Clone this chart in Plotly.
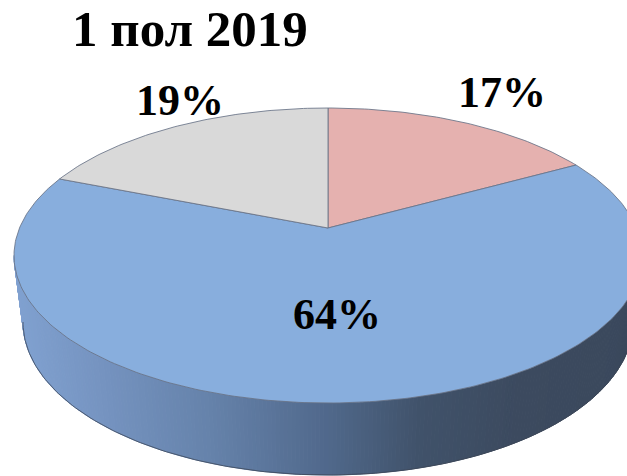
import math
import plotly.graph_objects as go

# Data
categories = ["A", "B", "C"]
values = [17, 64, 19]
labels = ["17%", "64%", "19%"]
slice_colors = ["#e5b1af", "#88aedd", "#d9d9d9"]
title_text = "1 пол 2019"

# Chart geometry, in page-like units
W, H = 627, 476
APEX = (328, 228)
TOP_UP, TOP_DOWN, RIM_RX = 120.0, 175.0, 314.0
C = -(TOP_DOWN - TOP_UP) / (TOP_DOWN + TOP_UP)
A = TOP_UP * (1 - C)
K = RIM_RX * math.sqrt(1 - C * C)
UPPER = (328, 255.5, 314, 147.5)
LOWER = (328, 322, 305, 153)
WALL_STOPS = [(14, (128, 161, 208)), (100, (117, 147, 192)), (210, (101, 130, 170)),
              (328, (80, 104, 139)), (420, (64, 82, 106)), (520, (60, 74, 95)), (642, (58, 72, 92))]


def project(theta):
    """Clockwise angle from the top of the disc to a point on the page."""
    x, y = math.sin(theta), -math.cos(theta)
    d = 1 + C * y
    return APEX[0] + K * x / d, APEX[1] + A * y / d


def on_ellipse(e, phi):
    return e[0] + e[2] * math.cos(phi), e[1] + e[3] * math.sin(phi)


def wall_color(x):
    for (x0, c0), (x1, c1) in zip(WALL_STOPS, WALL_STOPS[1:]):
        if x <= x1:
            f = max(0, (x - x0) / (x1 - x0))
            return "rgb(%d,%d,%d)" % tuple(round(a + (b - a) * f) for a, b in zip(c0, c1))
    return "rgb(%d,%d,%d)" % WALL_STOPS[-1][1]


fig = go.Figure()

# Side wall of the disc: thin strips shaded from left to right
N = 240
for i in range(N):
    p0, p1 = math.pi * i / N, math.pi * (i + 1) / N
    a, b = on_ellipse(UPPER, p0), on_ellipse(UPPER, p1)
    c, d = on_ellipse(LOWER, p1), on_ellipse(LOWER, p0)
    col = wall_color((a[0] + b[0]) / 2)
    fig.add_trace(go.Scatter(x=[a[0], b[0], c[0], d[0], a[0]], y=[a[1], b[1], c[1], d[1], a[1]],
                             mode="lines", fill="toself", fillcolor=col,
                             line=dict(color=col, width=1), hoverinfo="skip", showlegend=False))

# Edge under the wall
low_pts = [on_ellipse(LOWER, math.pi * i / 180) for i in range(181)]
fig.add_trace(go.Scatter(x=[p[0] for p in low_pts], y=[p[1] for p in low_pts], mode="lines",
                         line=dict(color="rgba(60,70,85,0.75)", width=1),
                         hoverinfo="skip", showlegend=False))

# Top face slices, drawn from the values
total = sum(values)
start = 0.0
for name, val, col in zip(categories, values, slice_colors):
    t0 = 2 * math.pi * start / total
    t1 = 2 * math.pi * (start + val) / total
    n = max(2, int(val * 4))
    rim = [project(t0 + (t1 - t0) * j / n) for j in range(n + 1)]
    xs = [APEX[0]] + [p[0] for p in rim] + [APEX[0]]
    ys = [APEX[1]] + [p[1] for p in rim] + [APEX[1]]
    fig.add_trace(go.Scatter(x=xs, y=ys, mode="lines", fill="toself", fillcolor=col, name=name,
                             line=dict(color="rgba(105,115,135,0.85)", width=1),
                             hoverinfo="skip", showlegend=False))
    start += val

texts = [(title_text, 190, 29, 51), (labels[0], 502, 92, 44), (labels[1], 337, 314, 44), (labels[2], 180, 100, 44)]
for t, x, y, s in texts:
    fig.add_annotation(x=x, y=y, text="<b>%s</b>" % t, showarrow=False, xanchor="center", yanchor="middle",
                       font=dict(family="Liberation Serif", size=s, color="black"))

fig.update_layout(width=W, height=H, margin=dict(l=0, r=0, t=0, b=0), autosize=False,
                  paper_bgcolor="white", plot_bgcolor="white",
                  xaxis=dict(range=[0, W], visible=False, fixedrange=True),
                  yaxis=dict(range=[H, 0], visible=False, fixedrange=True))
fig.write_html("out.html", config={"displayModeBar": False},
               post_script="document.body.style.margin='0';document.documentElement.style.overflow='hidden';")
